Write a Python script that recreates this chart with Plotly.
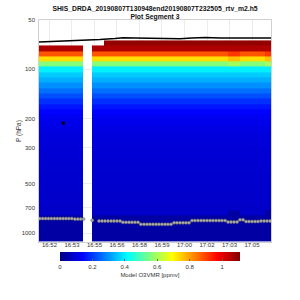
import plotly.graph_objects as go

TITLE = "SHIS_DRDA_20190807T130948end20190807T232505_rtv_m2.h5"
SUBTITLE = "Plot Segment 3"

# pressure level edges (hPa), 38 layers
p_edges = [66.6, 71.7, 77.2, 83.2, 89.7, 96.6, 104.0, 112.1, 120.7, 130.0,
           140.1, 150.9, 162.6, 175.2, 188.7, 203.3, 218.9, 235.8, 254.1, 273.7,
           294.8, 317.6, 342.1, 368.6, 397.1, 427.7, 460.8, 496.4, 534.8, 576.1,
           620.6, 668.5, 720.1, 775.8, 835.7, 900.2, 969.8, 1044.7, 1125.4]

# mean O3 profile (ppmv) per layer
o3_profile = [1.09, 1.06, 0.88, 0.73, 0.56, 0.40, 0.36, 0.33, 0.295, 0.26,
              0.225, 0.19, 0.16, 0.14, 0.125, 0.115, 0.108, 0.102, 0.098, 0.095,
              0.092, 0.090, 0.088, 0.086, 0.085, 0.084, 0.083, 0.082, 0.081, 0.080,
              0.079, 0.078, 0.077, 0.035, 0.035, 0.035, 0.035, 0.035]
below_sfc_o3 = 0.035

# time column edges (minutes after 16:00)
time_edges = [51.35, 51.74, 52.13, 52.52, 52.91, 53.30, 53.69, 54.09,
              54.65, 55.03, 55.42, 55.80, 56.19, 56.57, 56.95, 57.34, 57.72, 58.10,
              58.49, 58.87, 59.26, 59.64, 60.02, 60.41, 60.79, 61.17, 61.56, 61.94,
              62.33, 62.71, 63.09, 63.48, 63.86, 64.25, 64.63, 65.01, 65.40, 65.78]

col_valid = [1]*7 + [0] + [1]*29
top_missing = [1]*7 + [0] + [1, 1] + [0]*27
dark_start = [33]*7 + [33] + [33]*22 + [32, 32] + [33]*4 + [32]
upper_anom = [0]*7 + [0] + [0]*22 + [0.03, 0.03] + [0]*4 + [0.03]

# aircraft pressure line
ac_time = [51.35, 52.65, 54.08, 55.14, 56.08, 56.58, 57.32, 58.25, 59.19, 60.12,
           60.87, 61.68, 62.61, 63.54, 64.48, 65.78]
ac_pres = [68.2, 67.6, 66.8, 65.8, 64.8, 64.1, 64.3, 64.6, 65.0, 65.0,
           64.3, 64.0, 64.4, 64.6, 64.3, 64.4]

# surface pressure dots
sfc_time = [51.40, 51.58, 51.76, 51.94, 52.12, 52.31, 52.49, 52.67, 52.85, 53.03,
            53.21, 53.39, 53.58, 53.76, 53.94, 54.12, None,
            54.66, None,
            55.08, 55.27, 55.45, 55.64, 55.83, 56.01, 56.20, 56.39, 56.57, 56.76,
            56.95, 57.13, 57.32, 57.51, 57.69, 57.88, 58.07, 58.25, 58.44, 58.63,
            58.81, 59.00, 59.19, 59.37, 59.56, 59.75, 59.93, 60.12, 60.31, 60.49,
            60.68, 60.87, 61.05, 61.24, 61.43, 61.61, 61.80, 61.99, 62.17, 62.36,
            62.55, 62.73, 62.92, 63.11, 63.29, 63.48, 63.67, 63.85, 64.04, 64.23,
            64.41, 64.60, 64.79, 64.97, 65.16, 65.35, 65.53, 65.72]
sfc_pres = [813, 813, 813, 813, 813, 813, 813, 813, 813, 813,
            813, 813, 819, 819, 819, 819, None,
            833, None,
            841, 841, 841, 841, 841, 841, 841, 841, 857, 857,
            857, 857, 857, 857, 881, 881, 881, 881, 881, 881,
            881, 881, 881, 881, 881, 862, 862, 862, 862, 862,
            862, 836, 836, 836, 836, 836, 836, 836, 836, 836,
            836, 836, 836, 852, 852, 852, 852, 827, 827, 847,
            847, 847, 847, 847, 841, 841, 841, 841]

# isolated marker
pt_time = [52.86]
pt_pres = [213]

tick_vals = [52.0, 53.4, 54.8, 56.2, 57.6, 59.0, 60.4, 61.8, 63.2, 64.6]
tick_text = ["16:52", "16:53", "16:55", "16:56", "16:58", "16:59", "17:00",
             "17:02", "17:03", "17:05"]
p_ticks = [50, 100, 200, 300, 500, 700, 1000]
cb_ticks = [0, 0.2, 0.4, 0.6, 0.8, 1]
cb_text = ["0", "0.2", "0.4", "0.6", "0.8", "1"]

nrow = len(o3_profile)
ncol = len(col_valid)
z = []
for i in range(nrow):
    row = []
    for j in range(ncol):
        if not col_valid[j] or i < top_missing[j]:
            row.append(None)
        elif i >= dark_start[j]:
            row.append(below_sfc_o3)
        else:
            v = o3_profile[i] + (upper_anom[j] if 2 <= i <= 4 else 0)
            row.append(v)
    z.append(row)

jet = [[0, 'rgb(0,0,132)'], [0.125, 'rgb(0,0,255)'], [0.375, 'rgb(0,255,255)'],
       [0.625, 'rgb(255,255,0)'], [0.875, 'rgb(255,0,0)'], [1, 'rgb(128,0,0)']]

FONT = "Liberation Sans, Arial, sans-serif"

fig = go.Figure()
fig.add_trace(go.Heatmap(
    x=time_edges, y=p_edges, z=z, colorscale=jet, zmin=0, zmax=1.11,
    hoverongaps=False,
    colorbar=dict(
        orientation='h', x=0.478, xanchor='center', xref='paper',
        y=-0.045, yanchor='top', yref='paper',
        len=180, lenmode='pixels', thickness=9, xpad=0, ypad=0,
        outlinewidth=0, tickvals=cb_ticks, ticktext=cb_text,
        ticks='inside', ticklen=2, tickcolor='#666',
        tickfont=dict(family=FONT, size=6, color='#333'),
        title=dict(text='Model O3VMR [ppmv]', side='bottom',
                   font=dict(family=FONT, size=6, color='#333')),
    ),
))
fig.add_trace(go.Scatter(
    x=ac_time, y=ac_pres, mode='lines', line=dict(color='black', width=1.5),
    showlegend=False, hoverinfo='skip'))
fig.add_trace(go.Scatter(
    x=sfc_time, y=sfc_pres, mode='lines+markers', connectgaps=False,
    line=dict(color='#8a8a8a', width=0.7),
    marker=dict(size=3, color='#b0b0b0', line=dict(color='#6a6a6a', width=0.6)),
    showlegend=False, hoverinfo='skip'))
fig.add_trace(go.Scatter(
    x=pt_time, y=pt_pres, mode='markers',
    marker=dict(size=3, color='black', symbol='square'),
    showlegend=False, hoverinfo='skip'))

fig.update_layout(
    width=300, height=300,
    margin=dict(l=39, r=29, t=20, b=58),
    paper_bgcolor='white', plot_bgcolor='white',
    showlegend=False,
    font=dict(family=FONT, size=6, color='#333'),
    title=dict(text="<b>" + TITLE + "</b><br><b>" + SUBTITLE + "</b>",
               x=0.5, xref='paper', xanchor='center',
               y=1 - 10.5/300, yref='container', yanchor='middle',
               font=dict(family=FONT, size=6.8, color='#111')),
    xaxis=dict(range=[51.35, 65.78], tickvals=tick_vals, ticktext=tick_text,
               showgrid=True, gridcolor='#ececec', gridwidth=0.8,
               zeroline=False, showline=True, linecolor='#d0d0d0', linewidth=0.6,
               mirror=True, ticks='', ticklabelstandoff=-3,
               tickfont=dict(family=FONT, size=6, color='#333')),
    yaxis=dict(type='log', range=[3.053, 1.699], tickvals=p_ticks,
               ticktext=[str(v) for v in p_ticks],
               showgrid=True, gridcolor='#ececec', gridwidth=0.8,
               zeroline=False, showline=True, linecolor='#d0d0d0', linewidth=0.6,
               mirror=True, ticks='', ticklabelstandoff=2,
               tickfont=dict(family=FONT, size=6, color='#333')),
    annotations=[dict(text='P (hPa)', textangle=-90, x=-0.086, y=0.5,
                      xref='paper', yref='paper', showarrow=False,
                      xanchor='center', yanchor='middle',
                      font=dict(family=FONT, size=6.5, color='#333'))],
)

fig.write_html("out.html")
